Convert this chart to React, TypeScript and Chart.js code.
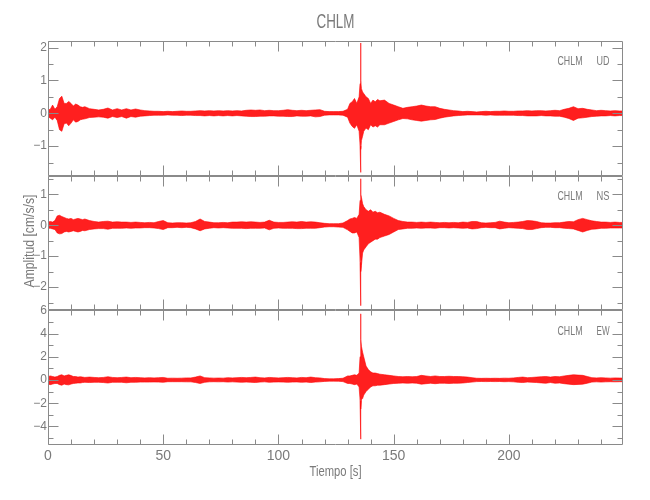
import React, { useEffect, useRef } from 'react';
import { Chart, registerables } from 'chart.js';

Chart.register(...registerables);

const TITLE = 'CHLM';
const STATION = 'CHLM';
const COMPONENTS = ['UD', 'NS', 'EW'];
const X_TITLE = 'Tiempo [s]';
const Y_TITLE = 'Amplitud [cm/s/s]';

const X_MIN = 0;
const X_MAX = 249.5;
const X_TICKS = [0, 50, 100, 150, 200];
const Y_RANGES = [
  [-1.9, 2.2],
  [-2.75, 1.6],
  [-5.6, 6],
];
const Y_TICKS = [
  [-1, 0, 1, 2],
  [-2, -1, 0, 1],
  [-4, -2, 0, 2, 4, 6],
];
const Y_STEPS = [1, 1, 2];
const Y_MINOR = [0.5, 0.5, 1];

const TIME = [
  0, 1, 2, 3, 4, 5, 6, 7, 8, 9, 10, 11, 12, 13, 14, 15, 16,
  18, 20, 22, 24, 26, 28, 30, 32, 34, 36, 38, 40, 42, 44, 46, 48, 50, 52, 54, 56, 58, 60,
  62, 64, 66, 68, 70, 72, 74, 76, 78, 80, 82, 84, 86, 88, 90, 92, 94, 96, 98, 100,
  102, 104, 106, 108, 110, 112, 114, 116, 118, 120, 122, 124, 126, 128, 130,
  131, 132, 133, 134, 135, 135.4, 135.6, 135.8, 136, 136.5, 137, 138, 139, 140, 141, 142, 143, 144, 146, 148, 150,
  152, 154, 156, 158, 160, 162, 164, 166, 168, 170, 172, 174, 176, 178, 180, 182, 184, 186, 188, 190, 192, 194, 196, 198, 200,
  202, 204, 206, 208, 210, 212, 214, 216, 218, 220, 222, 224, 226, 228, 230, 232, 234, 236, 238, 240, 242, 244, 246, 248, 250,
];

const UD_MAX = [
  0.10, 0.12, 0.25, 0.12, 0.20, 0.45, 0.52, 0.30, 0.30, 0.36, 0.30, 0.22, 0.28, 0.25, 0.20, 0.18, 0.20,
  0.14, 0.12, 0.10, 0.12, 0.16, 0.10, 0.14, 0.10, 0.14, 0.10, 0.13, 0.10, 0.08, 0.07, 0.06, 0.06, 0.05, 0.06, 0.05, 0.06, 0.07, 0.06,
  0.06, 0.07, 0.08, 0.07, 0.08, 0.07, 0.08, 0.07, 0.08, 0.07, 0.08, 0.07, 0.09, 0.10, 0.09, 0.10, 0.08, 0.09, 0.08, 0.08,
  0.09, 0.11, 0.09, 0.08, 0.09, 0.08, 0.09, 0.10, 0.11, 0.06, 0.05, 0.05, 0.05, 0.06, 0.12,
  0.30, 0.35, 0.45, 0.30, 0.50, 0.90, 2.14, 1.00, 0.75, 0.65, 0.60, 0.50, 0.45, 0.30, 0.40, 0.35, 0.42, 0.38, 0.40, 0.30, 0.25,
  0.20, 0.15, 0.18, 0.20, 0.22, 0.25, 0.22, 0.20, 0.20, 0.15, 0.12, 0.10, 0.08, 0.07, 0.05, 0.06, 0.05, 0.04, 0.05, 0.06, 0.05, 0.06, 0.06, 0.07, 0.06,
  0.06, 0.07, 0.07, 0.08, 0.07, 0.08, 0.08, 0.07, 0.08, 0.09, 0.08, 0.12, 0.15, 0.20, 0.14, 0.15, 0.12, 0.10, 0.08, 0.09, 0.08, 0.07, 0.08, 0.07, 0.07,
];
const UD_MIN = [
  -0.10, -0.15, -0.20, -0.12, -0.22, -0.50, -0.55, -0.32, -0.30, -0.38, -0.30, -0.20, -0.27, -0.25, -0.20, -0.18, -0.17,
  -0.13, -0.12, -0.11, -0.12, -0.15, -0.10, -0.13, -0.10, -0.15, -0.10, -0.12, -0.09, -0.08, -0.07, -0.06, -0.06, -0.06, -0.05, -0.06, -0.06, -0.07, -0.06,
  -0.06, -0.07, -0.07, -0.08, -0.07, -0.08, -0.07, -0.08, -0.07, -0.08, -0.07, -0.08, -0.09, -0.10, -0.10, -0.09, -0.09, -0.08, -0.08, -0.09,
  -0.09, -0.10, -0.10, -0.08, -0.09, -0.09, -0.08, -0.11, -0.10, -0.06, -0.05, -0.05, -0.05, -0.06, -0.12,
  -0.30, -0.40, -0.46, -0.35, -0.55, -1.00, -1.80, -1.10, -0.83, -0.70, -0.55, -0.45, -0.50, -0.35, -0.42, -0.38, -0.42, -0.35, -0.35, -0.30, -0.25,
  -0.20, -0.16, -0.17, -0.20, -0.22, -0.24, -0.22, -0.20, -0.19, -0.15, -0.12, -0.10, -0.08, -0.07, -0.06, -0.05, -0.05, -0.05, -0.05, -0.06, -0.05, -0.06, -0.06, -0.06, -0.06,
  -0.06, -0.07, -0.07, -0.08, -0.08, -0.08, -0.07, -0.08, -0.08, -0.09, -0.09, -0.12, -0.16, -0.22, -0.15, -0.14, -0.12, -0.10, -0.09, -0.08, -0.08, -0.07, -0.08, -0.07, -0.07,
];

const NS_MAX = [
  0.10, 0.12, 0.10, 0.15, 0.30, 0.32, 0.28, 0.25, 0.22, 0.20, 0.22, 0.18, 0.20, 0.22, 0.20, 0.18, 0.20,
  0.15, 0.12, 0.10, 0.12, 0.13, 0.10, 0.11, 0.10, 0.10, 0.09, 0.10, 0.09, 0.08, 0.09, 0.08, 0.12, 0.15, 0.08, 0.07, 0.08, 0.08, 0.07,
  0.08, 0.12, 0.20, 0.12, 0.10, 0.08, 0.08, 0.09, 0.08, 0.10, 0.10, 0.11, 0.10, 0.11, 0.10, 0.09, 0.10, 0.16, 0.10, 0.09,
  0.09, 0.10, 0.11, 0.10, 0.12, 0.10, 0.11, 0.10, 0.08, 0.06, 0.05, 0.05, 0.05, 0.07, 0.15,
  0.20, 0.22, 0.25, 0.22, 0.35, 0.80, 1.50, 1.00, 0.90, 0.70, 0.60, 0.50, 0.45, 0.50, 0.42, 0.45, 0.40, 0.42, 0.35, 0.30, 0.22,
  0.15, 0.12, 0.10, 0.10, 0.09, 0.10, 0.09, 0.10, 0.09, 0.08, 0.09, 0.08, 0.09, 0.08, 0.10, 0.09, 0.12, 0.12, 0.08, 0.07, 0.08, 0.09, 0.13, 0.10, 0.08,
  0.09, 0.10, 0.12, 0.15, 0.14, 0.12, 0.08, 0.07, 0.07, 0.08, 0.08, 0.10, 0.12, 0.11, 0.18, 0.22, 0.18, 0.14, 0.12, 0.10, 0.10, 0.09, 0.10, 0.09, 0.09,
];
const NS_MIN = [
  -0.10, -0.10, -0.12, -0.14, -0.25, -0.28, -0.27, -0.22, -0.20, -0.22, -0.20, -0.18, -0.20, -0.22, -0.20, -0.17, -0.18,
  -0.14, -0.12, -0.11, -0.11, -0.13, -0.10, -0.10, -0.10, -0.09, -0.10, -0.09, -0.09, -0.08, -0.08, -0.09, -0.11, -0.14, -0.08, -0.08, -0.07, -0.08, -0.07,
  -0.08, -0.12, -0.18, -0.12, -0.10, -0.08, -0.09, -0.08, -0.09, -0.10, -0.10, -0.10, -0.11, -0.10, -0.10, -0.10, -0.09, -0.15, -0.10, -0.09,
  -0.10, -0.10, -0.10, -0.11, -0.11, -0.10, -0.10, -0.10, -0.08, -0.06, -0.05, -0.05, -0.06, -0.07, -0.15,
  -0.20, -0.25, -0.25, -0.22, -0.40, -1.20, -2.60, -1.50, -1.30, -0.90, -0.80, -0.70, -0.60, -0.55, -0.50, -0.45, -0.45, -0.40, -0.35, -0.30, -0.22,
  -0.14, -0.12, -0.10, -0.10, -0.09, -0.10, -0.09, -0.09, -0.10, -0.08, -0.08, -0.09, -0.08, -0.09, -0.10, -0.09, -0.12, -0.11, -0.08, -0.07, -0.08, -0.08, -0.12, -0.10, -0.08,
  -0.09, -0.10, -0.11, -0.14, -0.14, -0.11, -0.08, -0.07, -0.07, -0.08, -0.08, -0.10, -0.11, -0.12, -0.17, -0.22, -0.17, -0.13, -0.12, -0.10, -0.10, -0.09, -0.09, -0.09, -0.09,
];

const EW_MAX = [
  0.30, 0.35, 0.30, 0.25, 0.30, 0.40, 0.45, 0.35, 0.40, 0.45, 0.38, 0.30, 0.30, 0.25, 0.28, 0.25, 0.22,
  0.25, 0.22, 0.20, 0.22, 0.28, 0.22, 0.20, 0.22, 0.25, 0.20, 0.22, 0.20, 0.18, 0.20, 0.18, 0.20, 0.22, 0.15, 0.16, 0.15, 0.16, 0.18,
  0.18, 0.25, 0.35, 0.20, 0.18, 0.16, 0.17, 0.16, 0.20, 0.18, 0.20, 0.22, 0.20, 0.22, 0.25, 0.20, 0.18, 0.22, 0.20, 0.18,
  0.20, 0.22, 0.20, 0.18, 0.22, 0.20, 0.25, 0.20, 0.18, 0.12, 0.10, 0.10, 0.12, 0.15, 0.35,
  0.35, 0.40, 0.45, 0.40, 0.60, 2.00, 5.70, 3.50, 2.90, 2.40, 2.00, 1.20, 0.90, 0.70, 0.60, 0.60, 0.55, 0.50, 0.45, 0.40, 0.35,
  0.30, 0.28, 0.30, 0.28, 0.30, 0.40, 0.35, 0.30, 0.35, 0.30, 0.30, 0.32, 0.30, 0.30, 0.28, 0.25, 0.20, 0.15, 0.14, 0.15, 0.14, 0.15, 0.14, 0.16, 0.15,
  0.18, 0.22, 0.25, 0.20, 0.22, 0.25, 0.28, 0.30, 0.25, 0.30, 0.28, 0.35, 0.40, 0.45, 0.42, 0.40, 0.30, 0.20, 0.18, 0.20, 0.18, 0.16, 0.18, 0.17, 0.16,
];
const EW_MIN = [
  -0.35, -0.40, -0.35, -0.30, -0.30, -0.40, -0.45, -0.35, -0.40, -0.42, -0.35, -0.30, -0.28, -0.25, -0.26, -0.22, -0.20,
  -0.22, -0.20, -0.20, -0.22, -0.26, -0.20, -0.20, -0.20, -0.24, -0.20, -0.20, -0.18, -0.18, -0.18, -0.17, -0.18, -0.20, -0.15, -0.15, -0.15, -0.15, -0.16,
  -0.16, -0.22, -0.30, -0.20, -0.16, -0.15, -0.16, -0.15, -0.18, -0.16, -0.18, -0.20, -0.18, -0.20, -0.22, -0.18, -0.16, -0.20, -0.18, -0.17,
  -0.18, -0.20, -0.18, -0.17, -0.20, -0.18, -0.22, -0.18, -0.16, -0.12, -0.10, -0.10, -0.11, -0.14, -0.30,
  -0.30, -0.35, -0.40, -0.35, -0.60, -1.80, -5.10, -2.50, -1.70, -1.60, -1.30, -1.00, -0.80, -0.60, -0.50, -0.50, -0.45, -0.45, -0.40, -0.35, -0.30,
  -0.28, -0.26, -0.28, -0.26, -0.28, -0.36, -0.32, -0.28, -0.32, -0.28, -0.28, -0.30, -0.28, -0.28, -0.26, -0.22, -0.18, -0.14, -0.13, -0.14, -0.13, -0.14, -0.13, -0.15, -0.14,
  -0.16, -0.20, -0.22, -0.18, -0.20, -0.22, -0.25, -0.28, -0.22, -0.28, -0.26, -0.32, -0.36, -0.40, -0.38, -0.36, -0.28, -0.18, -0.16, -0.18, -0.16, -0.15, -0.16, -0.15, -0.15,
];

const SERIES = [
  [UD_MAX, UD_MIN],
  [NS_MAX, NS_MIN],
  [EW_MAX, EW_MIN],
];

const AXIS_COLOR = '#8a8a8a';
const TEXT_COLOR = '#7a7a7a';
const TRACE_COLOR = 'rgba(255,0,0,0.88)';
const FONT = '"Liberation Sans Narrow", "Liberation Sans", Arial, sans-serif';

function drawFit(
  ctx: CanvasRenderingContext2D,
  text: string,
  x: number,
  y: number,
  size: number,
  width: number,
  align: 'left' | 'center',
  rotate = false
) {
  ctx.save();
  ctx.font = `${size}px ${FONT}`;
  ctx.fillStyle = TEXT_COLOR;
  ctx.textBaseline = 'middle';
  ctx.textAlign = 'left';
  const w0 = ctx.measureText(text).width || 1;
  const sx = width / w0;
  ctx.translate(x, y);
  if (rotate) ctx.rotate(-Math.PI / 2);
  const start = align === 'center' ? -width / 2 : 0;
  ctx.translate(start, 0);
  ctx.scale(sx, 1);
  ctx.fillText(text, 0, 0);
  ctx.restore();
}

const framePlugin = {
  id: 'seisFrame',
  afterDraw(chart: any) {
    const ctx: CanvasRenderingContext2D = chart.ctx;
    const area = chart.chartArea;
    const xs = chart.scales.x;
    const L = Math.round(area.left) + 0.5;
    const R = Math.round(area.right) - 0.5;
    ctx.save();
    ctx.strokeStyle = AXIS_COLOR;
    ctx.lineWidth = 1;
    [0, 1, 2].forEach((i) => {
      const s = chart.scales['y' + i];
      const T = Math.round(s.top) + 0.5;
      const B = Math.round(s.bottom) - 0.5;
      ctx.beginPath();
      ctx.moveTo(L, T);
      ctx.lineTo(R, T);
      ctx.lineTo(R, B);
      ctx.lineTo(L, B);
      ctx.closePath();
      ctx.stroke();
      ctx.beginPath();
      for (let v = X_MIN; v <= X_MAX; v += 10) {
        const px = Math.round(xs.getPixelForValue(v)) + 0.5;
        const len = v % 50 === 0 ? 10 : 5;
        ctx.moveTo(px, T);
        ctx.lineTo(px, T + len);
        ctx.moveTo(px, B);
        ctx.lineTo(px, B - len);
      }
      const minor = Y_MINOR[i];
      const major = Y_STEPS[i];
      const [mn, mx] = Y_RANGES[i];
      for (let k = Math.ceil(mn / minor); k * minor <= mx + 1e-9; k++) {
        const v = k * minor;
        const py = Math.round(s.getPixelForValue(v)) + 0.5;
        const isMajor = Math.abs(v / major - Math.round(v / major)) < 1e-6;
        const len = isMajor ? 10 : 5;
        ctx.moveTo(L, py);
        ctx.lineTo(L + len, py);
        ctx.moveTo(R, py);
        ctx.lineTo(R - len, py);
      }
      ctx.stroke();
      const labelY = T + [20, 20, 21][i];
      drawFit(ctx, STATION, R - 65, labelY, 13, 25, 'left');
      drawFit(ctx, COMPONENTS[i], R - 26, labelY, 13, 13, 'left');
    });
    ctx.restore();
    drawFit(ctx, TITLE, (area.left + area.right) / 2, 22.5, 21, 38, 'center');
    drawFit(ctx, X_TITLE, (area.left + area.right) / 2, 472, 14, 52, 'center');
    drawFit(ctx, Y_TITLE, 30, 241, 14, 93, 'center', true);
  },
};

export default function App() {
  const ref = useRef<HTMLCanvasElement>(null);
  useEffect(() => {
    if (!ref.current) return;
    const datasets: any[] = [];
    SERIES.forEach(([hi, lo], i) => {
      datasets.push({
        data: TIME.map((t, k) => ({ x: t, y: hi[k] })),
        yAxisID: 'y' + i,
        borderColor: TRACE_COLOR,
        backgroundColor: TRACE_COLOR,
        borderWidth: 0.7,
        pointRadius: 0,
        tension: 0,
        fill: '+1',
      });
      datasets.push({
        data: TIME.map((t, k) => ({ x: t, y: lo[k] })),
        yAxisID: 'y' + i,
        borderColor: TRACE_COLOR,
        backgroundColor: TRACE_COLOR,
        borderWidth: 0.7,
        pointRadius: 0,
        tension: 0,
        fill: false,
      });
    });
    const yScale = (i: number) => ({
      type: 'linear',
      position: 'left',
      stack: 'panels',
      stackWeight: 1,
      min: Y_RANGES[i][0],
      max: Y_RANGES[i][1],
      grid: { display: false, drawTicks: false },
      border: { display: false },
      afterBuildTicks: (s: any) => {
        s.ticks = Y_TICKS[i].map((v) => ({ value: v }));
      },
      ticks: {
        autoSkip: false,
        padding: 1,
        color: TEXT_COLOR,
        font: { family: FONT, size: 12 },
        callback: (v: number) => String(v).replace('-', '\u2212'),
      },
      afterFit: (s: any) => {
        s.width = 48;
      },
    });
    const chart = new Chart(ref.current, {
      type: 'line',
      data: { datasets },
      plugins: [framePlugin],
      options: {
        animation: false,
        responsive: false,
        devicePixelRatio: 1,
        layout: { padding: { left: 0, top: 41, right: 27, bottom: 0 } },
        plugins: {
          legend: { display: false },
          tooltip: { enabled: false },
          title: { display: false },
        },
        scales: {
          x: {
            type: 'linear',
            position: 'bottom',
            min: X_MIN,
            max: X_MAX,
            grid: { display: false, drawTicks: false },
            border: { display: false },
            afterBuildTicks: (s: any) => {
              s.ticks = X_TICKS.map((v) => ({ value: v }));
            },
            ticks: {
              autoSkip: false,
              padding: 3,
              maxRotation: 0,
              color: TEXT_COLOR,
              font: { family: FONT, size: 14 },
            },
            afterFit: (s: any) => {
              s.height = 55;
            },
          },
          y2: yScale(2),
          y1: yScale(1),
          y0: yScale(0),
        } as any,
      },
    } as any);
    return () => chart.destroy();
  }, []);
  return (
    <div style={{ position: 'absolute', left: 0, top: 0, width: 650, height: 500, background: '#fff' }}>
      <canvas ref={ref} width={650} height={500} style={{ width: 650, height: 500 }} />
    </div>
  );
}
